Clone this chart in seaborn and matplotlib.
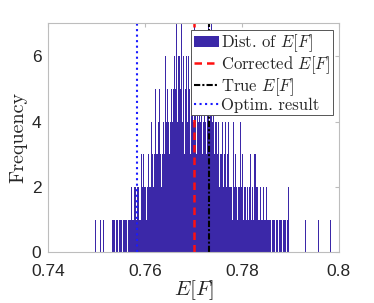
import numpy as np
import pandas as pd
import seaborn as sns
import matplotlib.pyplot as plt

# histogram counts, bins of width 0.0002 starting at 0.7496
bin_start = 0.7496
bin_width = 0.0002
counts = [
    1, 0, 0, 0, 0, 1, 0, 0, 0, 1,
    0, 0, 0, 0, 0, 0, 0, 0, 1, 1,
    1, 0, 1, 1, 0, 1, 1, 1, 0, 1,
    1, 1, 1, 0, 1, 1, 1, 2, 1, 1,
    1, 2, 2, 1, 2, 2, 1, 1, 3, 2,
    3, 2, 2, 1, 2, 3, 2, 2, 4, 3,
    2, 3, 5, 3, 3, 4, 5, 3, 2, 3,
    4, 6, 3, 6, 4, 5, 4, 3, 4, 5,
    4, 5, 6, 5, 7, 4, 6, 6, 5, 7,
    4, 6, 3, 5, 6, 4, 6, 5, 3, 6,
    5, 4, 7, 4, 5, 3, 6, 4, 5, 4,
    5, 3, 4, 6, 4, 3, 5, 7, 4, 6,
    7, 4, 5, 3, 4, 4, 3, 4, 2, 3,
    3, 4, 2, 3, 4, 3, 2, 3, 4, 2,
    2, 2, 1, 4, 2, 3, 2, 1, 2, 2,
    4, 2, 3, 1, 2, 2, 1, 2, 1, 2,
    3, 1, 2, 1, 3, 3, 2, 1, 2, 1,
    1, 2, 1, 1, 2, 1, 1, 2, 1, 1,
    1, 1, 0, 1, 1, 1, 0, 1, 1, 0,
    1, 1, 1, 0, 1, 1, 1, 0, 1, 1,
    2, 0, 0, 0, 0, 0, 0, 0, 0, 0,
    0, 0, 0, 0, 0, 0, 0, 1, 0, 0,
    0, 0, 0, 0, 0, 0, 0, 0, 0, 0,
    1, 0, 0, 0, 0, 0, 0, 0, 0, 0,
    0, 0, 0, 1, 0, 0, 0, 0, 0, 0,
]

corrected = 0.7701
true_val = 0.7732
optim = 0.7583

n = len(counts)
centers = bin_start + bin_width * (np.arange(n) + 0.5)
df = pd.DataFrame({"value": centers, "count": counts})

sns.set_style("white")
plt.rcParams["mathtext.fontset"] = "cm"
plt.rcParams["font.family"] = ["Liberation Sans", "DejaVu Sans"]

fig = plt.figure(figsize=(3.74, 3.03), dpi=100)
ax = fig.add_axes([0.129, 0.167, 0.777, 0.756])

sns.histplot(data=df, x="value", weights="count", binwidth=bin_width,
             binrange=(bin_start, bin_start + n * bin_width),
             color="#3B28A8", edgecolor="none", alpha=1, linewidth=0, ax=ax,
             label="Dist. of $E[F]$")
ax.axvline(corrected, color="#FF1010", ls=(0, (3, 2)), lw=1.8, label="Corrected $E[F]$")
ax.axvline(true_val, color="black", ls=(0, (3, 1, 1, 1)), lw=1.5, label="True $E[F]$")
ax.axvline(optim, color="#1A1AFF", ls=":", lw=1.5, label="Optim. result")

ax.set_xlim(0.74, 0.8)
ax.set_ylim(0, 7)
ax.set_xticks([0.74, 0.76, 0.78, 0.8])
ax.set_xticklabels(["0.74", "0.76", "0.78", "0.8"])
ax.set_yticks([0, 2, 4, 6])
ax.tick_params(direction="in", length=3, top=True, right=True, labelsize=12.5,
               colors="#BDBDBD", labelcolor="#262626")
ax.tick_params(axis="x", pad=8)
ax.tick_params(axis="y", pad=5)
for s in ax.spines.values():
    s.set_color("#BDBDBD")
    s.set_linewidth(0.8)

ax.set_xlabel("$E[F]$", fontsize=15, labelpad=0)
ax.set_ylabel("Frequency", fontsize=14.5, family="cmr10", labelpad=3)

handles, labels = ax.get_legend_handles_labels()
order = [labels.index(l) for l in ["Dist. of $E[F]$", "Corrected $E[F]$",
                                   "True $E[F]$", "Optim. result"]]
leg = ax.legend([handles[i] for i in order], [labels[i] for i in order],
                loc="upper right", bbox_to_anchor=(0.979, 0.971),
                prop={"family": "cmr10", "size": 12}, frameon=True,
                fancybox=False, borderpad=0.15, labelspacing=0.0,
                handlelength=1.55, handletextpad=0.1, borderaxespad=0)
leg.get_frame().set_edgecolor("#555555")
leg.get_frame().set_linewidth(0.7)
leg.get_frame().set_alpha(1)

fig.savefig("out.png", dpi=100)
